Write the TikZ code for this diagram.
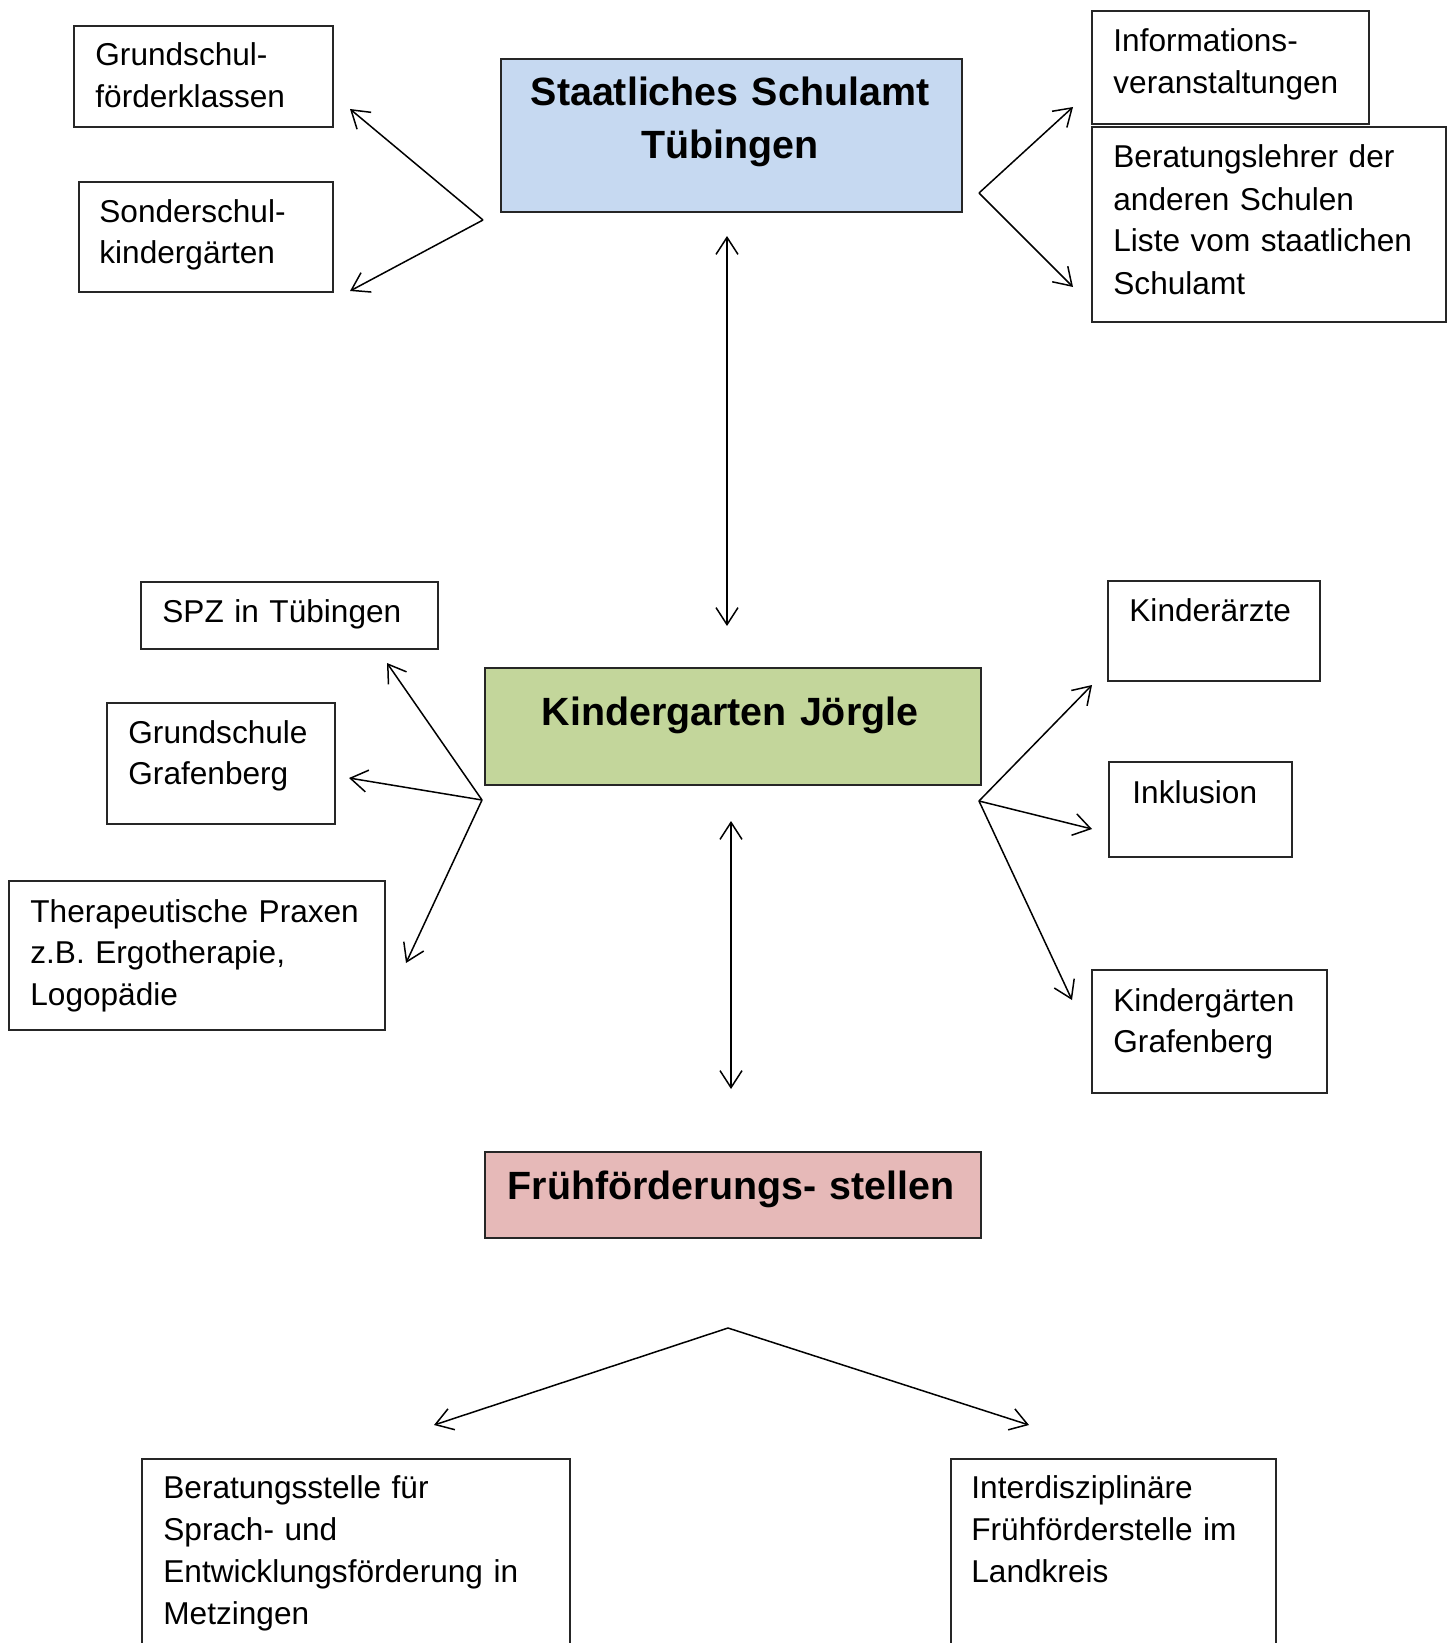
\documentclass[tikz,border=0pt]{standalone}
\usepackage{fontspec}
\setmainfont{Liberation Sans}
\usetikzlibrary{arrows.meta,fit}
\definecolor{sablue}{HTML}{C6D9F1}
\definecolor{kjgreen}{HTML}{C3D69B}
\definecolor{ffpink}{HTML}{E6B9B8}
\definecolor{boxline}{HTML}{262626}
\tikzset{
  box/.style={draw=boxline, line width=0.7pt, inner sep=0pt, rectangle},
  txt/.style={anchor=base west, inner sep=0pt, text width=200pt, align=left,
    font=\fontsize{15.8pt}{20.75pt}\selectfont},
  head/.style={anchor=base, inner sep=0pt, text width=240pt, align=center,
    font=\bfseries\fontsize{19.7pt}{26.5pt}\selectfont},
  barb/.tip={Straight Barb[length=8.5pt,width=11pt]},
  arr/.style={line width=0.75pt, -barb},
  darr/.style={line width=0.75pt, barb-barb},
}
\begin{document}
\begin{tikzpicture}[x=0.5pt, y=-0.5pt]
\useasboundingbox (0,0) rectangle (1455,1643);
\clip (0,0) rectangle (1455,1643);

% ---- top level ----
\node[box, fill=sablue, fit={(501,59) (962,212)}] (sa) {};
\node[head] (sat) at (730,105) {Staatliches Schulamt\\Tübingen};

\node[box, fit={(74,26) (333,127)}] (gfk) {};
\node[txt] (gfkt) at (95,66) {Grundschul-\\förderklassen};

\node[box, fit={(79,182) (333,292)}] (ssk) {};
\node[txt] (sskt) at (99,222) {Sonderschul-\\kindergärten};

\node[box, fit={(1092,11) (1369,124)}] (info) {};
\node[txt] (infot) at (1113,52) {Informations-\\veranstaltungen};

\node[box, fit={(1092,127) (1446,322)}] (berl) {};
\node[txt, font=\fontsize{15.8pt}{21pt}\selectfont] (berlt) at (1113,168) {Beratungslehrer der\\anderen Schulen\\Liste vom staatlichen\\Schulamt};

\coordinate (al) at (483,220);
\coordinate (tgfk) at (350,109);
\coordinate (tssk) at (350,291);
\draw[arr] (al) -- (tgfk);
\draw[arr] (al) -- (tssk);

\coordinate (ar) at (979,193);
\coordinate (tinfo) at (1073,107);
\coordinate (tberl) at (1073,287);
\draw[arr] (ar) -- (tinfo);
\draw[arr] (ar) -- (tberl);

\coordinate (v1a) at (727,236);
\coordinate (v1b) at (727,626);
\draw[darr] (v1a) -- (v1b);

% ---- middle level ----
\node[box, fill=kjgreen, fit={(485,668) (981,785)}] (kj) {};
\node[head] (kjt) at (730,725) {Kindergarten Jörgle};

\node[box, fit={(141,582) (438,649)}] (spz) {};
\node[txt] (spzt) at (162,622) {SPZ in Tübingen};

\node[box, fit={(107,703) (335,824)}] (gsg) {};
\node[txt] (gsgt) at (128,743) {Grundschule\\Grafenberg};

\node[box, fit={(9,881) (385,1030)}] (thera) {};
\node[txt] (therat) at (30,922) {Therapeutische Praxen\\z.B. Ergotherapie,\\Logopädie};

\node[box, fit={(1108,581) (1320,681)}] (ka) {};
\node[txt] (kat) at (1129,621) {Kinderärzte};

\node[box, fit={(1109,762) (1292,857)}] (ink) {};
\node[txt] (inkt) at (1132,803) {Inklusion};

\node[box, fit={(1092,970) (1327,1093)}] (kgg) {};
\node[txt] (kggt) at (1113,1011) {Kindergärten\\Grafenberg};

\coordinate (ml) at (482,800);
\coordinate (tspz) at (387,663);
\coordinate (tgsg) at (349,778);
\coordinate (tthera) at (406,963);
\draw[arr] (ml) -- (tspz);
\draw[arr] (ml) -- (tgsg);
\draw[arr] (ml) -- (tthera);

\coordinate (mr) at (979,801);
\coordinate (tka) at (1092,685);
\coordinate (tink) at (1092,829);
\coordinate (tkgg) at (1072,1000);
\draw[arr] (mr) -- (tka);
\draw[arr] (mr) -- (tink);
\draw[arr] (mr) -- (tkgg);

\coordinate (v2a) at (731,821);
\coordinate (v2b) at (731,1089);
\draw[darr] (v2a) -- (v2b);

% ---- bottom level ----
\node[box, fill=ffpink, fit={(485,1152) (981,1238)}] (ff) {};
\node[head] (fft) at (731,1199) {Frühförderungs- stellen};

\coordinate (bap) at (728,1328);
\coordinate (tbst) at (434,1425);
\coordinate (tifs) at (1029,1425);
\draw[arr] (bap) -- (tbst);
\draw[arr] (bap) -- (tifs);

\node[box, fit={(142,1459) (570,1700)}] (bst) {};
\node[txt, font=\fontsize{15.8pt}{21pt}\selectfont] (bstt) at (163,1498) {Beratungsstelle für\\Sprach- und\\Entwicklungsförderung in\\Metzingen};

\node[box, fit={(951,1459) (1276,1700)}] (ifs) {};
\node[txt, font=\fontsize{15.8pt}{21pt}\selectfont] (ifst) at (971,1498) {Interdisziplinäre\\Frühförderstelle im\\Landkreis};
\end{tikzpicture}
\end{document}
